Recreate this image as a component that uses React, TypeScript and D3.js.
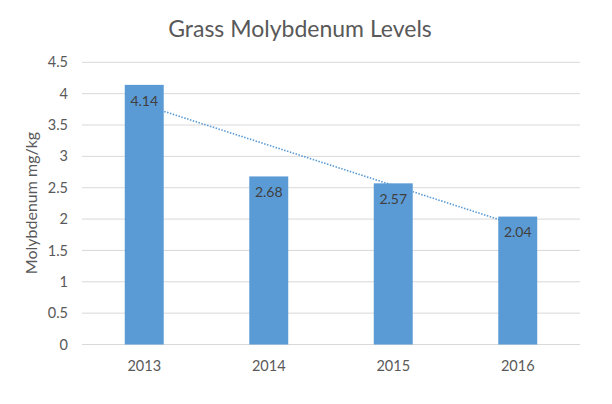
import React from "react";
import * as d3 from "d3";

const years = ["2013", "2014", "2015", "2016"];
const values = [4.14, 2.68, 2.57, 2.04];
const yTicks = [0, 0.5, 1, 1.5, 2, 2.5, 3, 3.5, 4, 4.5];
const title = "Grass Molybdenum Levels";
const yTitle = "Molybdenum mg/kg";

const W = 612;
const H = 404;
const FONT = "Lato, 'Open Sans', sans-serif";

export default function App() {
  const x = d3.scaleBand<string>().domain(years).range([82, 580]).paddingInner(0.687).paddingOuter(0.3435);
  const y = d3.scaleLinear().domain([0, 4.5]).range([344.5, 62.3]);

  // linear regression trendline
  const n = values.length;
  const xs = values.map((_, i) => i);
  const mx = d3.mean(xs) as number;
  const my = d3.mean(values) as number;
  const slope =
    d3.sum(xs.map((xi, i) => (xi - mx) * (values[i] - my))) / d3.sum(xs.map((xi) => (xi - mx) ** 2));
  const intercept = my - slope * mx;
  const cx = (i: number) => (x(years[i]) as number) + x.bandwidth() / 2;
  const line = d3
    .line<number>()
    .x((i) => cx(i))
    .y((i) => y(intercept + slope * i));

  return (
    <svg width={W} height={H} style={{ position: "absolute", left: 0, top: 0, background: "#fff" }} fontFamily={FONT}>
      <rect width={W} height={H} fill="#fff" />
      <text x={300} y={37} textAnchor="middle" fontSize={23} fill="#595959">
        {title}
      </text>
      {yTicks.map((t) => (
        <g key={t}>
          <line x1={82} x2={580} y1={y(t)} y2={y(t)} stroke="#D9D9D9" strokeWidth={1} />
          <text x={68} y={y(t)} dy="0.35em" textAnchor="end" fontSize={14.5} fill="#595959">
            {t}
          </text>
        </g>
      ))}
      <text
        transform={`translate(37,203) rotate(-90)`}
        textAnchor="middle"
        fontSize={16}
        fill="#595959"
      >
        {yTitle}
      </text>
      <path d={line([0, n - 1]) || ""} stroke="#5B9BD5" strokeWidth={1.6} strokeDasharray="1.5 1.5" fill="none" />
      {years.map((yr, i) => (
        <g key={yr}>
          <rect x={x(yr)} y={y(values[i])} width={x.bandwidth()} height={y(0) - y(values[i])} fill="#5B9BD5" />
          <text x={cx(i)} y={y(values[i]) + 16} dy="0.35em" textAnchor="middle" fontSize={14} fill="#404040">
            {values[i].toFixed(2)}
          </text>
          <text x={cx(i)} y={366} dy="0.35em" textAnchor="middle" fontSize={14.5} fill="#595959">
            {yr}
          </text>
        </g>
      ))}
    </svg>
  );
}
